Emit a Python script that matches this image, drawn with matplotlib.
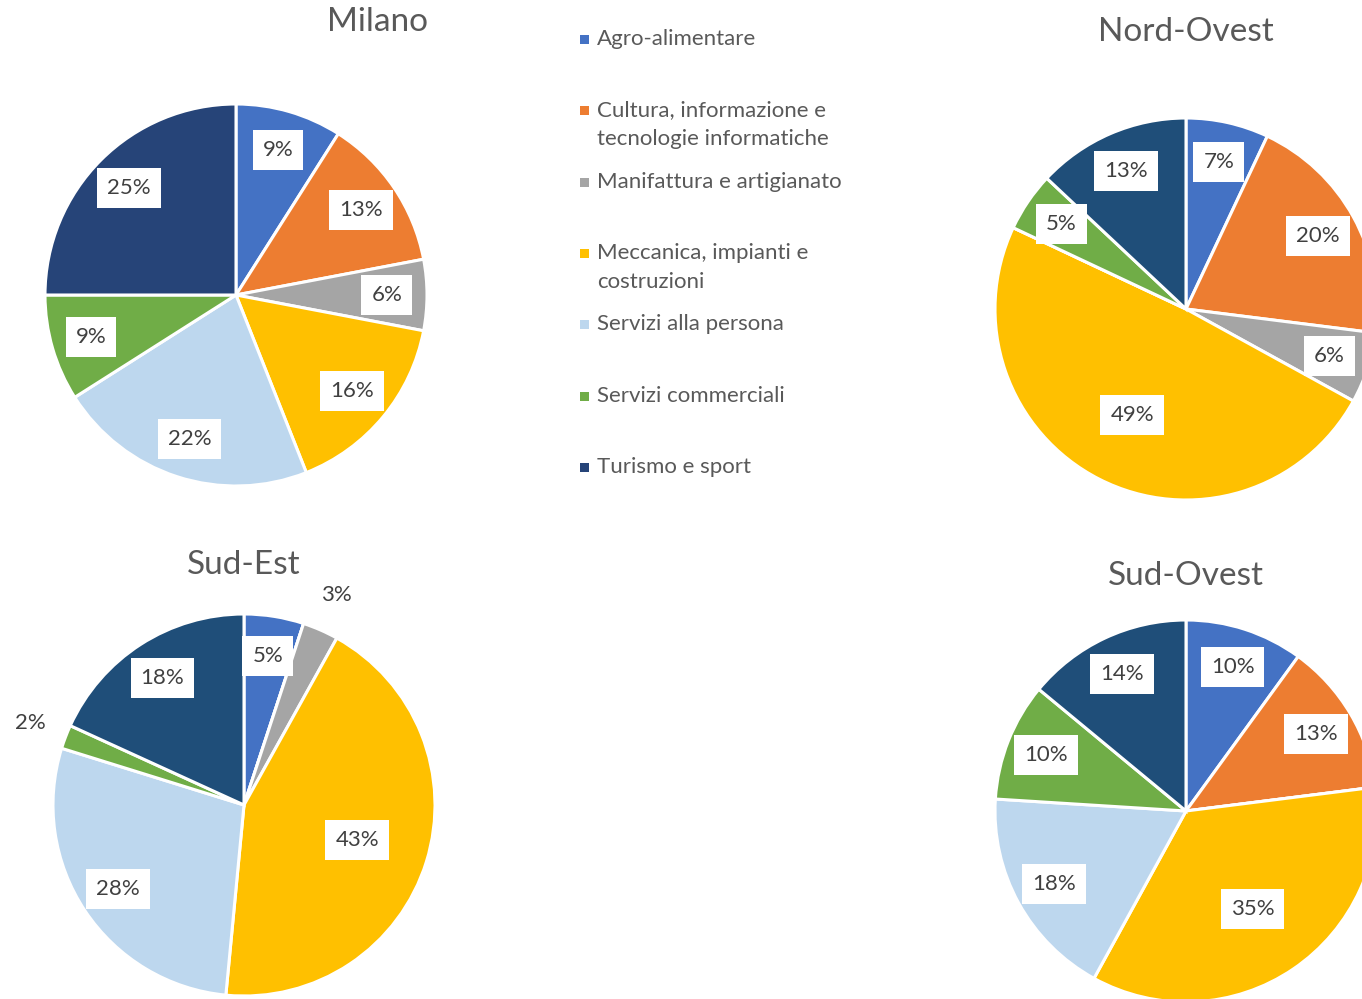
import numpy as np
import matplotlib
matplotlib.use("Agg")
import matplotlib.pyplot as plt

plt.rcParams['font.family'] = ['Lato', 'DejaVu Sans']

# categories and colours (Excel palette)
categories = ["Agro-alimentare",
              "Cultura, informazione e\ntecnologie informatiche",
              "Manifattura e artigianato",
              "Meccanica, impianti e\ncostruzioni",
              "Servizi alla persona",
              "Servizi commerciali",
              "Turismo e sport"]
colors = ["#4472C4", "#ED7D31", "#A5A5A5", "#FFC000", "#BDD7EE", "#70AD47", "#1F4E79"]
colors_milano = colors[:-1] + ["#264478"]

# percentages per area
milano = [9, 13, 6, 16, 22, 9, 25]
nord_ovest = [7, 20, 6, 49, 0, 5, 13]
sud_est = [5, 0, 3, 43, 28, 2, 18]
sud_ovest = [10, 13, 0, 35, 18, 10, 14]

W, H = 1362, 999
fig = plt.figure(figsize=(W / 100, H / 100), dpi=100)

grey_title = "#595959"
grey_lab = "#404040"


def draw_pie(vals, cols, cx, cy, r, title, tx, ty):
    ax = fig.add_axes([(cx - r) / W, (H - cy - r) / H, 2 * r / W, 2 * r / H])
    ax.pie(vals, colors=cols, startangle=90, counterclock=False, radius=1,
           wedgeprops=dict(edgecolor="white", linewidth=2.2))
    ax.set_xlim(-1, 1)
    ax.set_ylim(-1, 1)
    ax.axis("off")
    total = float(sum(vals))
    cum = 0.0
    for v in vals:
        if v <= 0:
            continue
        mid = (cum + v / 2) / total * 360.0
        cum += v
        ang = np.deg2rad(90 - mid)
        if v < 4:
            d = 1.2
            box = None
        elif v >= 30:
            d = 0.62
            box = dict(boxstyle="square,pad=0.45", fc="white", ec="none")
        else:
            d = 0.79
            box = dict(boxstyle="square,pad=0.45", fc="white", ec="none")
        ax.text(d * np.cos(ang), d * np.sin(ang), f"{v}%", ha="center", va="center",
                fontsize=16, color=grey_lab, bbox=box, clip_on=False)
    fig.text(tx / W, 1 - ty / H, title, ha="center", va="center",
             fontsize=24, color=grey_title)


draw_pie(milano, colors_milano, 236, 295, 191, "Milano", 378, 22)
draw_pie(nord_ovest, colors, 1186, 309, 191, "Nord-Ovest", 1186, 32)
draw_pie(sud_est, colors, 244, 805, 191, "Sud-Est", 244, 565)
draw_pie(sud_ovest, colors, 1186, 811, 191, "Sud-Ovest", 1186, 576)

# legend
slot0, step, line_h = 39, 71.3, 29
for i, (lab, col) in enumerate(zip(categories, colors_milano)):
    y = slot0 + i * step
    fig.patches.append(plt.Rectangle((580 / W, 1 - (y + 5) / H), 9 / W, 9 / H,
                                     transform=fig.transFigure, fc=col, ec="none"))
    for j, line in enumerate(lab.split("\n")):
        fig.text(597 / W, 1 - (y + j * line_h) / H, line, ha="left", va="center",
                 fontsize=16, color=grey_title)

fig.savefig("out.png", dpi=100)
